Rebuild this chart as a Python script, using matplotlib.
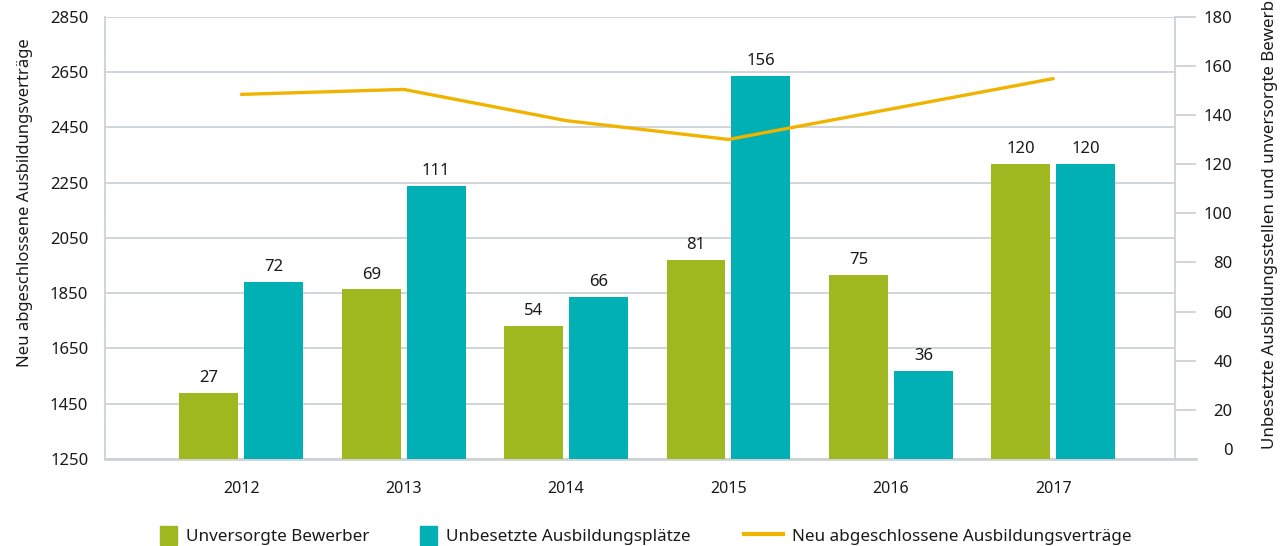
import numpy as np
import matplotlib
matplotlib.use("Agg")
import matplotlib.pyplot as plt
import matplotlib.patches as mpatches
from matplotlib.lines import Line2D
from matplotlib.legend_handler import HandlerPatch

plt.rcParams['font.family'] = ['Noto Sans', 'DejaVu Sans']

# ================= Daten =================
years = ["2012", "2013", "2014", "2015", "2016", "2017"]
unversorgt = [27, 69, 54, 81, 75, 120]
unbesetzt = [72, 111, 66, 156, 36, 120]
vertraege = [2569, 2587, 2474, 2406, 2516, 2626]

green = "#a0b820"
teal = "#00b0b5"
orange = "#f0b400"
grey = "#cdd2d7"
txt = "#1a1a1a"

# ================= Figur =================
fig = plt.figure(figsize=(12.86, 5.46), dpi=100)
ax = fig.add_axes([105 / 1286, 1 - 459 / 546, 1070 / 1286, 442.3 / 546])
ax2 = ax.twinx()

x = np.arange(len(years))
w = 0.363
off = 0.2

# linke Achse: Gitter
ax.set_xlim(-0.84, 5.75)
ax.set_ylim(1250, 2850)
ax.set_yticks(np.arange(1250, 2851, 200))
ax.grid(axis="y", color=grey, lw=1.3)
ax.set_axisbelow(True)
ax.tick_params(axis="y", length=0, pad=12, labelsize=12, colors=txt)
ax.tick_params(axis="x", length=0, pad=16, labelsize=11.5, colors=txt)
ax.set_xticks(x)
ax.set_xticklabels(years)
ax.set_ylabel("Neu abgeschlossene Ausbildungsverträge", fontsize=12, color=txt, labelpad=12)
ax.yaxis.label.set_y(0.58)
for s in ["top", "right"]:
    ax.spines[s].set_visible(False)
ax.spines["left"].set_color(grey)
ax.spines["left"].set_linewidth(1.3)
ax.spines["bottom"].set_visible(False)
ax.add_line(Line2D([0, 1 + 21 / 1070], [0, 0], transform=ax.transAxes,
                   color=grey, lw=2, clip_on=False, zorder=5))

# rechte Achse: Balken
b1 = ax2.bar(x - off, unversorgt, w, color=green, zorder=2)
b2 = ax2.bar(x + off, unbesetzt, w, color=teal, zorder=2)
ax2.set_ylim(0, 180)
ax2.set_yticks(np.arange(0, 181, 20))
ax2.tick_params(axis="y", length=15, width=1.3, color=grey, pad=26.5,
                labelsize=12, labelcolor=txt)
for lbl in ax2.get_yticklabels():
    lbl.set_horizontalalignment("right")
ax2.yaxis.get_major_ticks()[0].label2.set_verticalalignment("bottom")
ax2.set_ylabel("Unbesetzte Ausbildungsstellen und unversorgte Bewerber",
               fontsize=12.2, color=txt, labelpad=21)
ax2.yaxis.label.set_y(0.55)
for s in ["top", "left", "bottom"]:
    ax2.spines[s].set_visible(False)
ax2.spines["right"].set_color(grey)
ax2.spines["right"].set_linewidth(1.3)

for bars, vals in [(b1, unversorgt), (b2, unbesetzt)]:
    for r, v in zip(bars, vals):
        ax2.annotate(str(v), (r.get_x() + r.get_width() / 2, v),
                     xytext=(0, 5), textcoords="offset points",
                     ha="center", va="bottom", fontsize=12, color=txt)

# Linie (linke Skala), über den Balken
ln, = ax2.plot(x, vertraege, color=orange, lw=2.4, transform=ax.transData,
               zorder=5, solid_capstyle="round")

# ================= Legende =================
def square(legend, orig_handle, xdescent, ydescent, width, height, fontsize):
    return mpatches.Rectangle((-xdescent, -ydescent - 2), height + 1, height + 3)

items = [
    (mpatches.Patch(color=green), "Unversorgte Bewerber", 160, 1.0),
    (mpatches.Patch(color=teal), "Unbesetzte Ausbildungsplätze", 420, 1.0),
    (Line2D([], [], color=orange, lw=3), "Neu abgeschlossene Ausbildungsverträge", 744, 2.3),
]
for h, label, px, hl in items:
    fig.legend(handles=[h], labels=[label], loc="center left",
               bbox_to_anchor=(px / 1286, 1 - 536 / 546), frameon=False,
               handlelength=hl, handleheight=1.0, handletextpad=0.5,
               borderpad=0, borderaxespad=0, fontsize=12.3,
               labelcolor=txt, handler_map={mpatches.Patch: HandlerPatch(patch_func=square)})

fig.savefig("out.png", dpi=100)
